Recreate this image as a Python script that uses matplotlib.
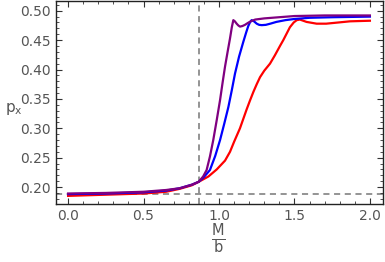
import numpy as np
import matplotlib
matplotlib.use('Agg')
import matplotlib.pyplot as plt
import matplotlib.ticker as ticker

purple_x = [0.0, 0.25, 0.5, 0.65, 0.74, 0.82, 0.866, 0.895, 0.918, 0.94, 0.962, 0.985, 1.007,
            1.024, 1.04, 1.057, 1.073, 1.085, 1.095, 1.105, 1.117, 1.128, 1.139, 1.155, 1.172,
            1.19, 1.21, 1.24, 1.3, 1.4, 1.5, 1.7, 2.0]
purple_y = [0.189, 0.190, 0.192, 0.195, 0.198, 0.204, 0.209, 0.218, 0.229, 0.252, 0.280, 0.314, 0.348,
            0.378, 0.405, 0.430, 0.453, 0.472, 0.484, 0.482, 0.478, 0.475, 0.473, 0.474, 0.476,
            0.479, 0.482, 0.485, 0.487, 0.489, 0.491, 0.492, 0.492]

blue_x = [0.0, 0.25, 0.5, 0.65, 0.74, 0.82, 0.866, 0.90, 0.94, 0.975, 1.007, 1.035, 1.062, 1.085,
          1.106, 1.133, 1.161, 1.18, 1.194, 1.205, 1.216, 1.232, 1.25, 1.266, 1.283, 1.31,
          1.34, 1.38, 1.44, 1.5, 1.6, 1.756, 2.0]
blue_y = [0.188, 0.189, 0.191, 0.194, 0.198, 0.204, 0.209, 0.217, 0.229, 0.253, 0.280, 0.308, 0.336, 0.365,
          0.393, 0.422, 0.447, 0.463, 0.474, 0.480, 0.484, 0.482, 0.478, 0.476, 0.4755, 0.476,
          0.478, 0.481, 0.484, 0.486, 0.488, 0.489, 0.490]

red_x = [0.0, 0.25, 0.5, 0.65, 0.74, 0.82, 0.866, 0.93, 0.985, 1.04, 1.073, 1.10, 1.139, 1.161,
         1.183, 1.205, 1.228, 1.25, 1.272, 1.3, 1.338, 1.37, 1.404, 1.426, 1.45, 1.47, 1.495,
         1.515, 1.536, 1.558, 1.58, 1.647, 1.71, 1.79, 1.868, 2.0]
red_y = [0.185, 0.187, 0.189, 0.192, 0.197, 0.203, 0.209, 0.218, 0.230, 0.245, 0.260, 0.277, 0.300, 0.316,
         0.332, 0.347, 0.362, 0.375, 0.387, 0.398, 0.410, 0.424, 0.440, 0.450, 0.462, 0.472, 0.480,
         0.484, 0.485, 0.483, 0.481, 0.478, 0.478, 0.480, 0.482, 0.483]

m_crit = 0.868
p_base = 0.189

gray = '#555555'
plt.rcParams['font.family'] = 'DejaVu Sans'

fig = plt.figure(figsize=(3.85, 2.62), dpi=100)
ax = fig.add_axes([0.1455, 0.221, 0.849, 0.775])

ax.axvline(m_crit, color='#777777', ls=(0, (4, 3)), lw=1.1, zorder=1)
ax.axhline(p_base, color='#777777', ls=(0, (4, 3)), lw=1.1, zorder=1)

ax.plot(red_x, red_y, color='#ff0000', lw=1.6, zorder=3)
ax.plot(blue_x, blue_y, color='#0000ff', lw=1.6, zorder=4)
ax.plot(purple_x, purple_y, color='#800080', lw=1.6, zorder=5)

ax.set_xlim(-0.08, 2.086)
ax.set_ylim(0.171, 0.5165)
ax.xaxis.set_major_locator(ticker.MultipleLocator(0.5))
ax.xaxis.set_minor_locator(ticker.MultipleLocator(0.1))
ax.yaxis.set_major_locator(ticker.MultipleLocator(0.05))
ax.yaxis.set_minor_locator(ticker.MultipleLocator(0.01))
ax.xaxis.set_major_formatter(ticker.FormatStrFormatter('%.1f'))
ax.yaxis.set_major_formatter(ticker.FormatStrFormatter('%.2f'))
ax.tick_params(which='both', direction='in', top=True, right=True, colors='#333333',
               labelcolor=gray, labelsize=10)
ax.tick_params(which='major', length=4, width=0.8)
ax.tick_params(which='minor', length=2, width=0.6)
for s in ax.spines.values():
    s.set_color('#222222')
    s.set_linewidth(1.0)

fig.text(0.012, 0.585, r'p$_\mathsf{x}$', color=gray, fontsize=11, va='center', ha='left')
fig.text(0.567, 0.09, r'$\frac{\mathsf{M}}{\mathsf{b}}$', color=gray, fontsize=15,
         va='center', ha='center')

fig.savefig('out.png', dpi=100)
